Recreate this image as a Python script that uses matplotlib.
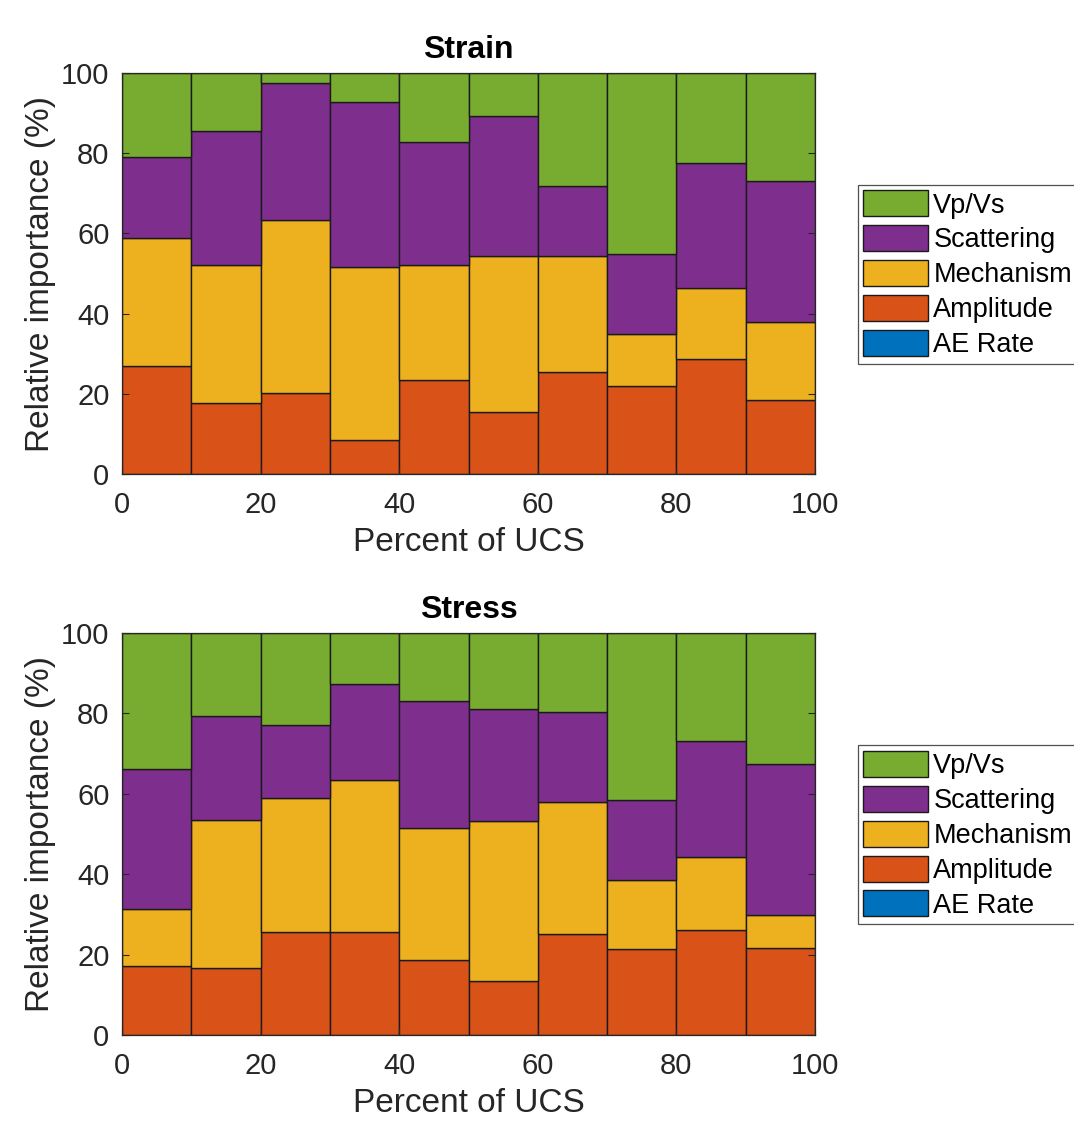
import numpy as np
import matplotlib
matplotlib.use("Agg")
from matplotlib import pyplot as plt

plt.rcParams["font.family"] = ["Liberation Sans", "DejaVu Sans"]

bin_edges = [0, 10, 20, 30, 40, 50, 60, 70, 80, 90]
labels = ["AE Rate", "Amplitude", "Mechanism", "Scattering", "Vp/Vs"]
colors = ["#0072BD", "#D95319", "#EDB120", "#7E2F8E", "#77AC30"]

# cumulative tops -> converted to layer heights below
strain_ae = [0, 0, 0, 0, 0, 0, 0, 0, 0, 0]
strain_amp = [27.0, 17.7, 20.2, 8.5, 23.4, 15.5, 25.4, 21.9, 28.7, 18.5]
strain_mech_top = [58.9, 52.1, 63.3, 51.6, 52.1, 54.4, 54.4, 34.9, 46.4, 37.9]
strain_scat_top = [79.0, 85.5, 97.5, 92.8, 82.8, 89.3, 71.8, 54.9, 77.6, 73.1]

stress_ae = [0, 0, 0, 0, 0, 0, 0, 0, 0, 0]
stress_amp = [17.2, 16.7, 25.6, 25.6, 18.7, 13.4, 25.1, 21.4, 26.1, 21.6]
stress_mech_top = [31.3, 53.5, 59.0, 63.4, 51.5, 53.2, 58.0, 38.6, 44.3, 29.9]
stress_scat_top = [66.2, 79.4, 77.1, 87.3, 83.1, 81.1, 80.3, 58.5, 73.1, 67.4]


def layers(ae, amp, mech_top, scat_top):
    ae = np.array(ae, float)
    amp = np.array(amp, float)
    mech = np.array(mech_top) - amp - ae
    scat = np.array(scat_top) - np.array(mech_top)
    vpvs = 100 - np.array(scat_top)
    return [ae, amp, mech, scat, vpvs]


def draw_panel(ax, data, title):
    bottom = np.zeros(len(bin_edges))
    handles = []
    for vals, lab, col in zip(data, labels, colors):
        h = ax.bar(bin_edges, vals, width=10, bottom=bottom, align="edge",
                   color=col, edgecolor="#1a1a1a", linewidth=1.0, label=lab)
        handles.append(h)
        bottom = bottom + vals
    ax.set_xlim(0, 100)
    ax.set_ylim(0, 100)
    ax.set_xticks(range(0, 101, 20))
    ax.set_yticks(range(0, 101, 20))
    ax.tick_params(direction="in", top=True, right=True, labelsize=21,
                   colors="#262626", length=5, width=0.8)
    ax.tick_params(axis="x", pad=12)
    ax.tick_params(axis="y", pad=9)
    for s in ax.spines.values():
        s.set_color("#262626")
        s.set_linewidth(0.9)
    ax.set_xlabel("Percent of UCS", fontsize=24, color="#262626", labelpad=6)
    ax.set_ylabel("Relative importance (%)", fontsize=24, color="#262626", labelpad=4)
    ax.set_title(title, fontsize=23, fontweight="bold", pad=11)
    leg = ax.legend(handles[::-1], labels[::-1], loc="upper left",
                    bbox_to_anchor=(1.062, 0.721), fontsize=19.5, frameon=True,
                    fancybox=False, edgecolor="#262626", handlelength=2.4,
                    handleheight=1.1, handletextpad=0.18, labelspacing=0.25,
                    borderpad=0.2, borderaxespad=0)
    leg.get_frame().set_linewidth(0.9)


fig = plt.figure(figsize=(10.74, 11.21), dpi=100)
ax1 = fig.add_axes([122 / 1074, 1 - 474 / 1121, 693 / 1074, 401 / 1121])
ax2 = fig.add_axes([122 / 1074, 1 - 1035 / 1121, 693 / 1074, 402 / 1121])

draw_panel(ax1, layers(strain_ae, strain_amp, strain_mech_top, strain_scat_top), "Strain")
draw_panel(ax2, layers(stress_ae, stress_amp, stress_mech_top, stress_scat_top), "Stress")

fig.savefig("out.png", dpi=100)
